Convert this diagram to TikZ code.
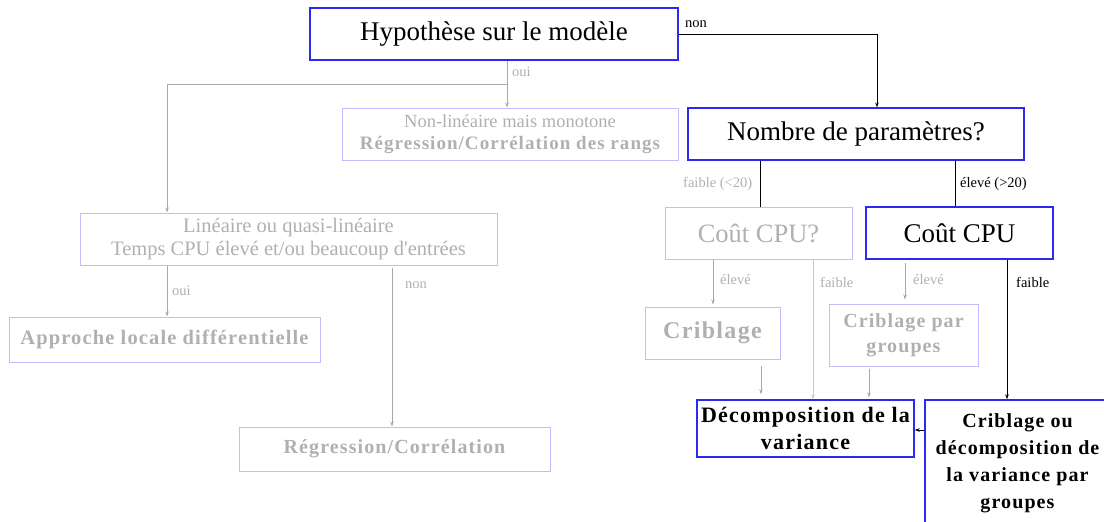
\documentclass[tikz,border=0pt]{standalone}
\usepackage{fontspec}
\setmainfont{Liberation Serif}
\usetikzlibrary{arrows.meta,calc}
\definecolor{gtxt}{HTML}{B0B0B0}
\definecolor{gline}{HTML}{A8A8A8}
\definecolor{lblue}{HTML}{BDBDFF}
\definecolor{sblue}{HTML}{2A2AF0}
\newcommand{\bsp}{\bfseries\addfontfeature{LetterSpace=5.5}}
\tikzset{
  box/.style={draw, rectangle, inner sep=1pt, align=center},
  strong/.style={box, draw=sblue, line width=1.4pt, text=black},
  faint/.style={box, draw=lblue, line width=1pt, text=gtxt},
  gl/.style={draw=gline, line width=0.6pt},
  bl/.style={draw=black, line width=0.8pt},
  arr/.style={-{Stealth[length=5pt,width=3.5pt]}},
  lab/.style={anchor=west, inner sep=0pt, font=\fontsize{14.5}{16}\selectfont},
}
\begin{document}
\begin{tikzpicture}[x=1pt,y=-1pt]
\useasboundingbox (0,0) rectangle (1104,522);
% nodes
\node[strong, line width=1.2pt, minimum width=368, minimum height=52, font=\fontsize{27}{30}\selectfont] (H) at (494,34) {Hypothèse sur le modèle};
\node[faint, minimum width=336, minimum height=52, font=\fontsize{18.5}{22}\selectfont] (NLM) at (510,134) {Non-linéaire mais monotone\\{\fontsize{19}{22}\selectfont\bsp Régression/Corrélation des rangs}};
\node[strong, line width=1.2pt, minimum width=336, minimum height=52, font=\fontsize{27}{30}\selectfont] (NP) at (856,134) {Nombre de paramètres?};
\node[faint, minimum width=417, minimum height=52, font=\fontsize{20.5}{22.5}\selectfont] (Lin) at (288.5,239) {Linéaire ou quasi-linéaire\\Temps CPU élevé et/ou beaucoup d\textquotesingle entrées};
\node[faint, minimum width=311, minimum height=45, font=\fontsize{20.5}{24}\selectfont\bsp] (ALD) at (164.5,339.5) {Approche locale différentielle};
\node[faint, minimum width=311, minimum height=44, font=\fontsize{20}{24}\selectfont\bsp] (RC) at (394.5,449) {Régression/Corrélation};
\node[faint, minimum width=187, minimum height=52, font=\fontsize{26.5}{30}\selectfont] (CPUq) at (758.5,233) {Coût CPU?};
\node[strong, minimum width=187, minimum height=52, font=\fontsize{27}{30}\selectfont] (CPU) at (959.5,233) {Coût CPU};
\node[faint, minimum width=135, minimum height=52, font=\fontsize{24}{28}\selectfont\bsp] (Crib) at (712.5,333) {Criblage};
\node[faint, minimum width=149, minimum height=62, font=\fontsize{20}{25}\selectfont\bsp] (CribG) at (903.5,335) {Criblage par\\groupes};
\node[strong, minimum width=217, minimum height=57, font=\fontsize{22}{27}\selectfont\bsp] (DV) at (805.5,428.5) {Décomposition de la\\variance};
\node[strong, minimum width=185, minimum height=126, font=\fontsize{20}{27}\selectfont\bsp] (CDV) at (1017.5,463) {Criblage ou\\décomposition de\\la variance par\\groupes};
% coordinates
\coordinate (ouiJ) at (507,84);
\coordinate (linX) at (167,84);
\coordinate (nonJ) at (877,34);
\coordinate (fX) at (760,0);
\coordinate (eX) at (955,0);
\coordinate (cqe) at (713,0);
\coordinate (cqf) at (813,0);
\coordinate (ce) at (905,0);
\coordinate (cf) at (1007,0);
\coordinate (cbX) at (761,0);
\coordinate (cgX) at (869,0);
\coordinate (lnX) at (392,0);
\coordinate (cdvY) at (0,430);
% connectors
\draw[gl,arr] (H.south -| ouiJ) -- (NLM.north -| ouiJ);
\draw[gl,arr] (ouiJ) -| (Lin.north -| linX);
\node[lab, text=gtxt] (louiH) at (512,72) {oui};
\draw[bl,arr] (H.east) -| (NP.north -| nonJ);
\node[lab] (lnonH) at (685,24) {non};
\draw[bl] (NP.south -| fX) -- (CPUq.north -| fX);
\node[lab, text=gtxt] (lf20) at (683,184) {faible (<20)};
\draw[bl] (NP.south -| eX) -- (CPU.north -| eX);
\node[lab] (le20) at (960,184) {élevé (>20)};
\draw[gl,arr] (CPUq.south -| cqe) -- ($(Crib.north -| cqe)+(0,-2)$);
\node[lab, text=gtxt] (lcqe) at (720,280) {élevé};
\draw[draw=gline!60,line width=0.6pt,arr] (CPUq.south -| cqf) -- (DV.north -| cqf);
\node[lab, text=gtxt] (lcqf) at (820,282) {faible};
\draw[gl,arr] ($(CPU.south -| ce)+(0,3)$) -- ($(CribG.north -| ce)+(0,-4)$);
\node[lab, text=gtxt] (lce) at (913,280) {élevé};
\draw[bl,arr] (CPU.south -| cf) -- (CDV.north -| cf);
\node[lab] (lcf) at (1016,282) {faible};
\draw[gl,arr] ($(Crib.south -| cbX)+(0,6)$) -- ($(DV.north -| cbX)+(0,-5)$);
\draw[gl,arr] ($(CribG.south -| cgX)+(0,2)$) -- ($(DV.north -| cgX)+(0,-2)$);
\draw[bl,arr] (CDV.west |- cdvY) -- (DV.east |- cdvY);
\draw[gl,arr] (Lin.south -| linX) -- (ALD.north -| linX);
\node[lab, text=gtxt] (loui2) at (172,291) {oui};
\draw[gl,arr] ($(Lin.south -| lnX)+(0,2)$) -- (RC.north -| lnX);
\node[lab, text=gtxt] (lnon2) at (405,285) {non};
\end{tikzpicture}
\end{document}
